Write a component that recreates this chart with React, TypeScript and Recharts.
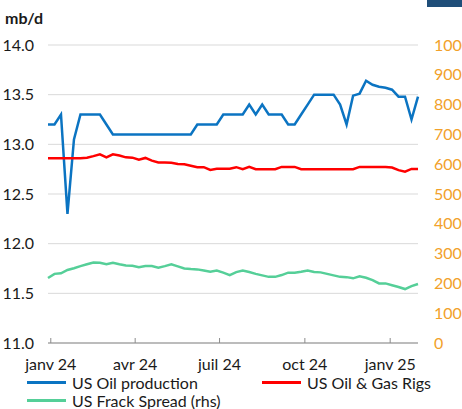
import { CartesianGrid, Line, LineChart, XAxis, YAxis } from "recharts";

const weeks = [
  "2023-12-29", "2024-01-05", "2024-01-12", "2024-01-19", "2024-01-26",
  "2024-02-02", "2024-02-09", "2024-02-16", "2024-02-23", "2024-03-01",
  "2024-03-08", "2024-03-15", "2024-03-22", "2024-03-29", "2024-04-05",
  "2024-04-12", "2024-04-19", "2024-04-26", "2024-05-03", "2024-05-10",
  "2024-05-17", "2024-05-24", "2024-05-31", "2024-06-07", "2024-06-14",
  "2024-06-21", "2024-06-28", "2024-07-05", "2024-07-12", "2024-07-19",
  "2024-07-26", "2024-08-02", "2024-08-09", "2024-08-16", "2024-08-23",
  "2024-08-30", "2024-09-06", "2024-09-13", "2024-09-20", "2024-09-27",
  "2024-10-04", "2024-10-11", "2024-10-18", "2024-10-25", "2024-11-01",
  "2024-11-08", "2024-11-15", "2024-11-22", "2024-11-29", "2024-12-06",
  "2024-12-13", "2024-12-20", "2024-12-27", "2025-01-03", "2025-01-10",
  "2025-01-17", "2025-01-24", "2025-01-31",
];

const oilProduction = [
  13.2, 13.2, 13.3, 12.3, 13.05, 13.3, 13.3, 13.3, 13.3, 13.2,
  13.1, 13.1, 13.1, 13.1, 13.1, 13.1, 13.1, 13.1, 13.1, 13.1,
  13.1, 13.1, 13.1, 13.2, 13.2, 13.2, 13.2, 13.3, 13.3, 13.3,
  13.3, 13.4, 13.3, 13.4, 13.3, 13.3, 13.3, 13.2, 13.2, 13.3,
  13.4, 13.5, 13.5, 13.5, 13.5, 13.4, 13.2, 13.49, 13.51, 13.64,
  13.6, 13.58, 13.57, 13.55, 13.48, 13.48, 13.25, 13.48,
];

const rigs = [
  620, 620, 620, 620, 620, 620, 622, 627, 633, 623,
  633, 629, 623, 622, 615, 621, 612, 606, 606, 605,
  601, 600, 595, 590, 590, 581, 585, 585, 585, 590,
  583, 591, 583, 583, 583, 583, 591, 591, 591, 583,
  583, 583, 583, 583, 583, 583, 583, 583, 591, 591,
  591, 591, 591, 589, 580, 575, 584, 584,
];

const frackSpread = [
  218, 232, 234, 245, 251, 258, 264, 270, 269, 264,
  269, 264, 260, 259, 254, 258, 258, 253, 258, 264,
  257, 250, 248, 247, 243, 239, 243, 236, 228, 238,
  243, 238, 232, 227, 222, 222, 228, 236, 236, 239,
  243, 238, 237, 232, 227, 222, 221, 217, 224, 219,
  211, 200, 200, 194, 188, 181, 191, 198,
];

const xTicks = ["2024-01-01", "2024-04-01", "2024-07-01", "2024-10-01", "2025-01-01"];
const xTickLabels = ["janv 24", "avr 24", "juil 24", "oct 24", "janv 25"];
const leftTicks = [11, 11.5, 12, 12.5, 13, 13.5, 14];
const rightTicks = [0, 100, 200, 300, 400, 500, 600, 700, 800, 900, 1000];

const data = weeks.map((w, i) => ({
  t: Date.parse(w),
  prod: oilProduction[i],
  rigs: rigs[i],
  frack: frackSpread[i],
}));

const tickTimes = xTicks.map((d) => Date.parse(d));
const font = "Lato, 'Open Sans', sans-serif";

const BLUE = "#0B74C2";
const RED = "#FF0000";
const GREEN = "#55CF98";
const ORANGE = "#F2A12A";

function LegendItem({ color, label, x, y }: { color: string; label: string; x: number; y: number }) {
  return (
    <div style={{ position: "absolute", left: x, top: y - 10, height: 20, display: "flex", alignItems: "center" }}>
      <div style={{ width: 39, height: 3, background: color, marginRight: 6 }} />
      <span style={{ fontSize: 16, color: "#1a1a1a", whiteSpace: "nowrap", fontFamily: font }}>{label}</span>
    </div>
  );
}

export default function App() {
  return (
    <div
      style={{
        position: "absolute",
        left: 0,
        top: 0,
        width: 462,
        height: 409,
        overflow: "hidden",
        background: "#fff",
        fontFamily: font,
      }}
    >
      <div style={{ position: "absolute", left: 427, top: 0, width: 35, height: 7, background: "#1F4E79" }} />
      <div style={{ position: "absolute", left: 5, top: 8, fontSize: 16, fontWeight: 700, color: "#1a1a1a" }}>mb/d</div>
      <LineChart
        width={462}
        height={409}
        data={data}
        margin={{ top: 45, right: 0, bottom: 36, left: 0 }}
      >
        <CartesianGrid yAxisId="left" vertical={false} stroke="#D9D9D9" strokeWidth={1} />
        <XAxis
          dataKey="t"
          type="number"
          scale="time"
          domain={[data[0].t, data[data.length - 1].t]}
          ticks={tickTimes}
          tickFormatter={(v) => xTickLabels[tickTimes.indexOf(v)] ?? ""}
          height={30}
          tickSize={-5}
          tickMargin={21}
          axisLine={{ stroke: "#8C8C8C" }}
          tickLine={{ stroke: "#8C8C8C" }}
          tick={{ fill: "#1a1a1a", fontSize: 16, fontFamily: font }}
          interval={0}
        />
        <YAxis
          yAxisId="left"
          orientation="left"
          domain={[11, 14]}
          ticks={leftTicks}
          tickFormatter={(v) => v.toFixed(1)}
          width={48}
          axisLine={false}
          tickLine={false}
          tickSize={0}
          tickMargin={14}
          tick={{ fill: "#1a1a1a", fontSize: 16, fontFamily: font }}
          interval={0}
        />
        <YAxis
          yAxisId="right"
          orientation="right"
          domain={[0, 1000]}
          ticks={rightTicks}
          width={44}
          axisLine={false}
          tickLine={false}
          tickSize={0}
          tickMargin={16}
          tick={{ fill: ORANGE, fontSize: 16, fontFamily: font }}
          interval={0}
        />
        <Line yAxisId="left" dataKey="prod" stroke={BLUE} strokeWidth={2.5} dot={false} isAnimationActive={false} />
        <Line yAxisId="right" dataKey="rigs" stroke={RED} strokeWidth={2.5} dot={false} isAnimationActive={false} />
        <Line yAxisId="right" dataKey="frack" stroke={GREEN} strokeWidth={2.5} dot={false} isAnimationActive={false} />
      </LineChart>
      <LegendItem color={BLUE} label="US Oil production" x={27} y={382} />
      <LegendItem color={RED} label="US Oil & Gas Rigs" x={262} y={382} />
      <LegendItem color={GREEN} label="US Frack Spread (rhs)" x={27} y={400} />
    </div>
  );
}
